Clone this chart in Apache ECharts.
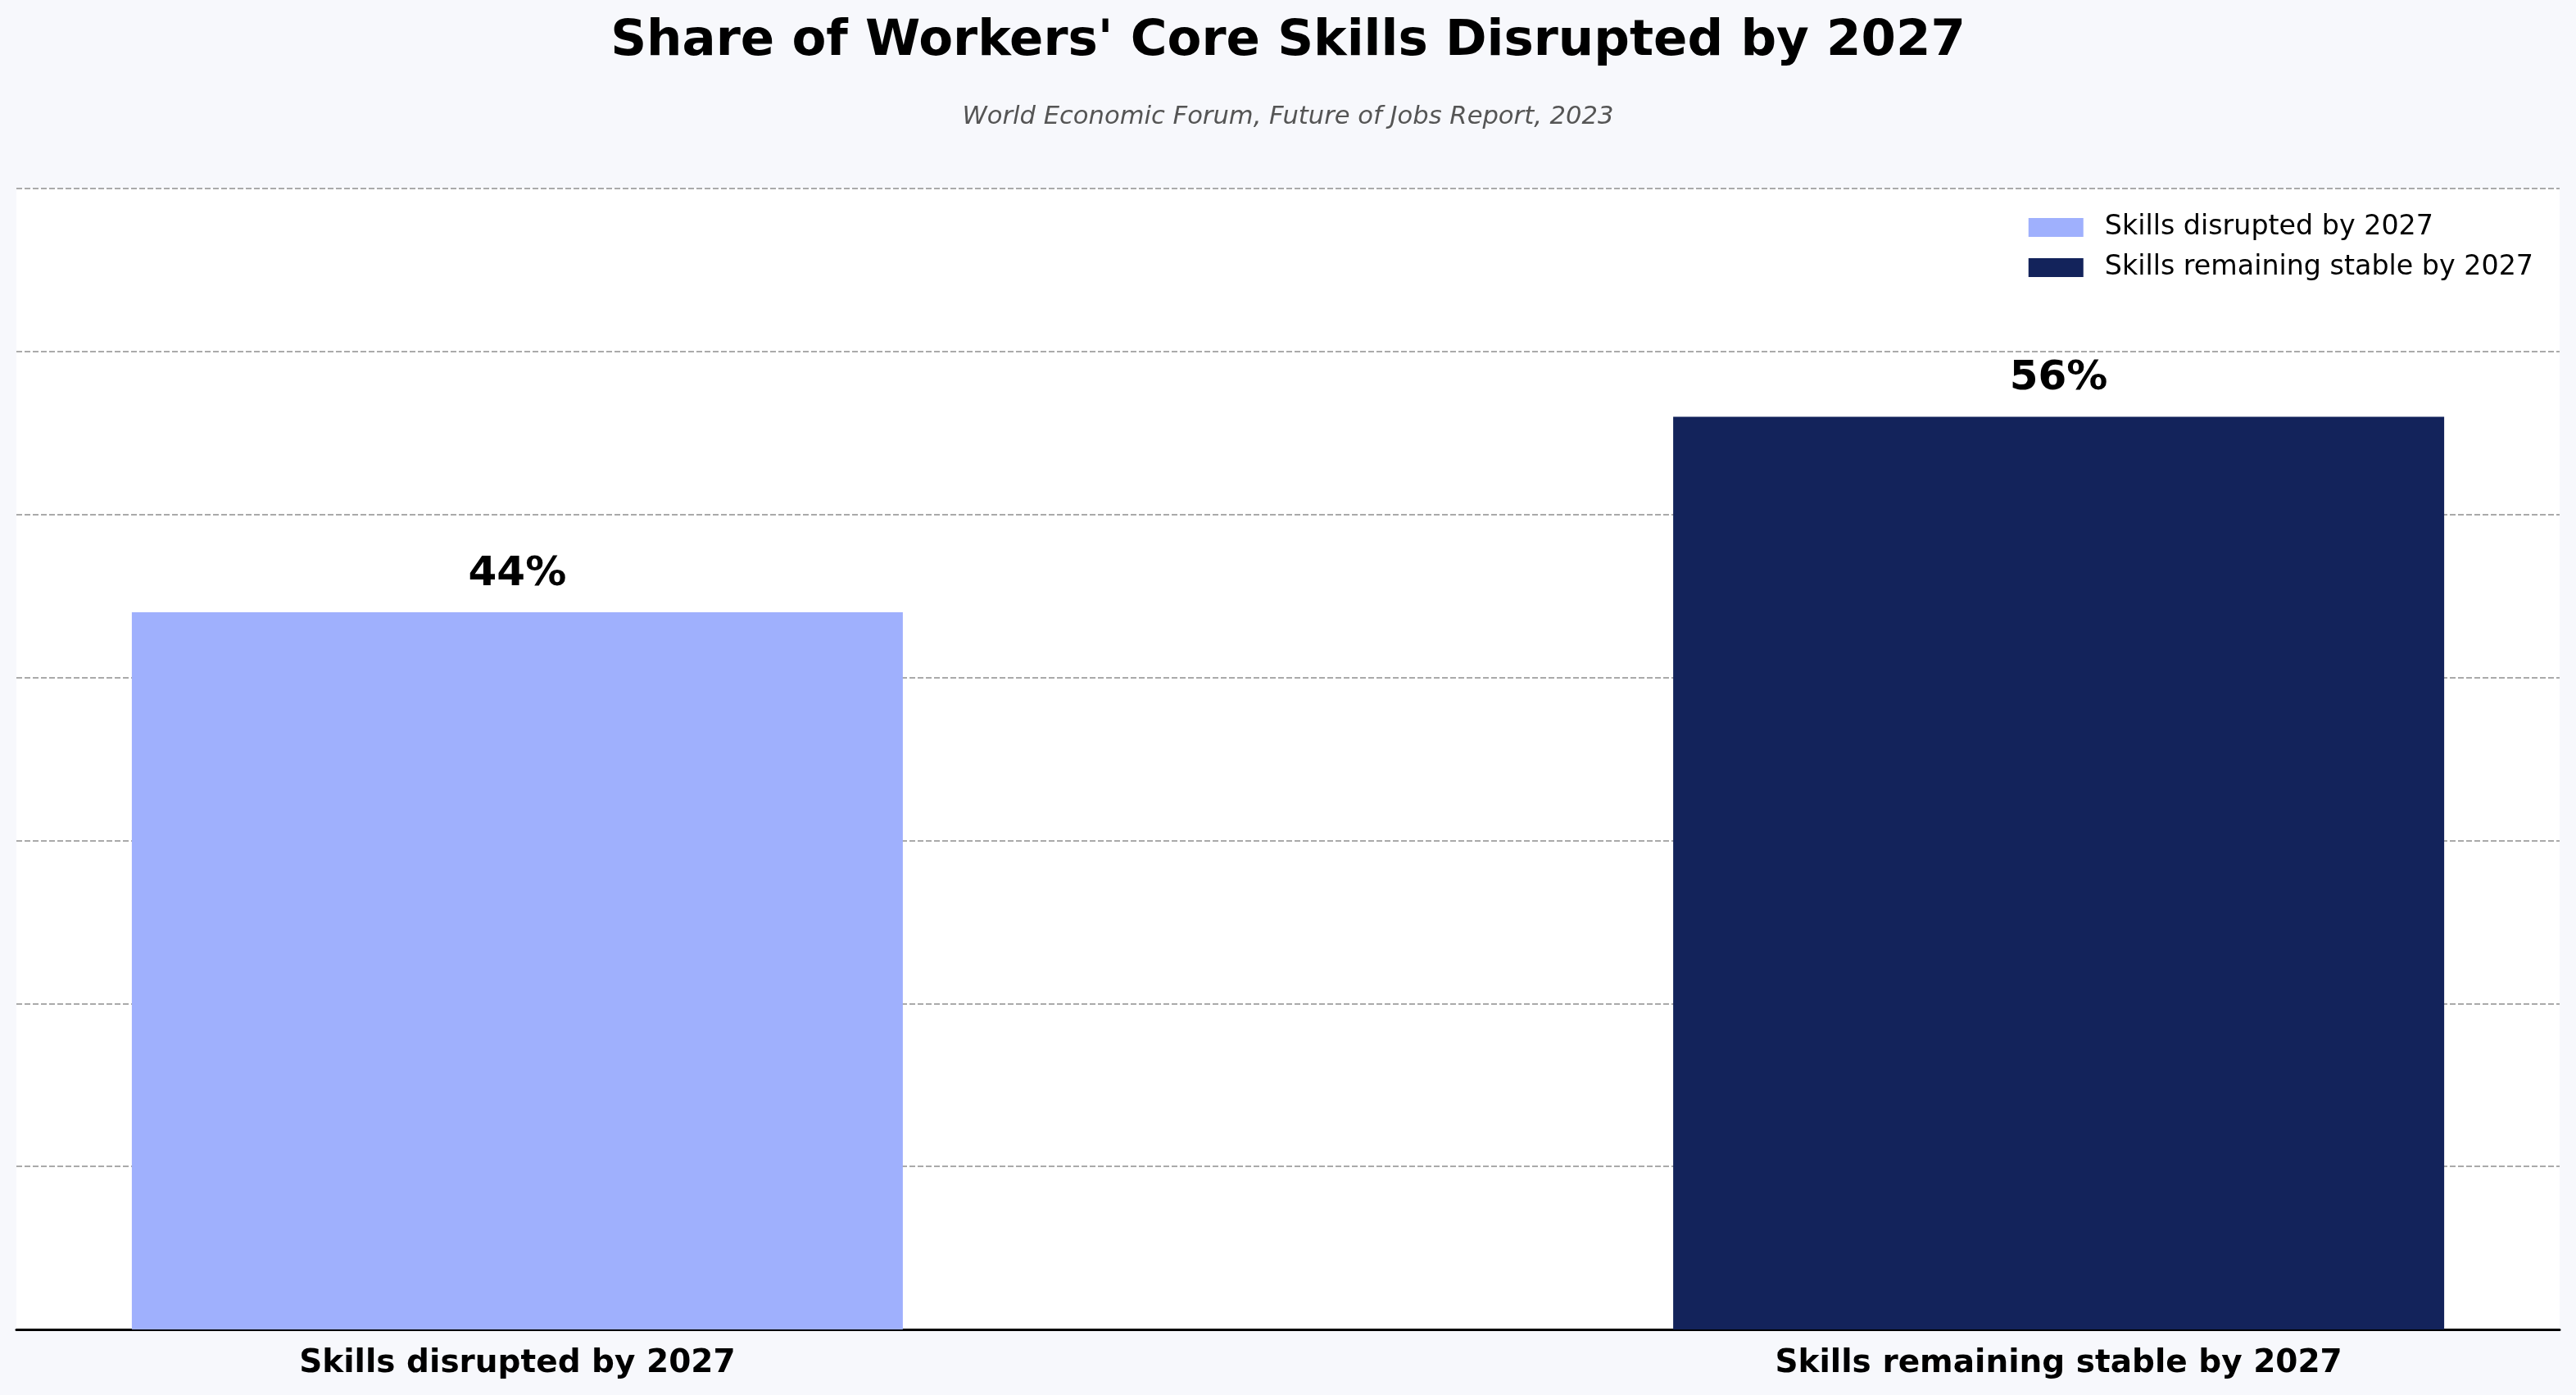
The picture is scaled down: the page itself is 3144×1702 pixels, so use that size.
<!DOCTYPE html>
<html>
<head>
<meta charset="utf-8">
<script src="https://cdn.jsdelivr.net/npm/echarts@6/dist/echarts.min.js"></script>
<style>
html,body{margin:0;padding:0;background:#f7f8fc;}
#chart{width:3144px;height:1702px;}
</style>
</head>
<body>
<div id="chart"></div>
<script>
const titleText = "Share of Workers' Core Skills Disrupted by 2027";
const subtitleText = "World Economic Forum, Future of Jobs Report, 2023";
const categories = ["Skills disrupted by 2027", "Skills remaining stable by 2027"];
const values = [44, 56];
const seriesColors = ["#9fb0fd", "#13235b"];
const yTicks = [0, 10, 20, 30, 40, 50, 60, 70];

const FONT = "DejaVu Sans";
const chart = echarts.init(document.getElementById('chart'), null, {renderer: 'canvas'});

const series = categories.map((name, i) => ({
  name: name,
  type: 'bar',
  data: [[i, values[i]]],
  barWidth: 941,
  barGap: '-100%',
  itemStyle: {color: seriesColors[i]},
  label: {
    show: true,
    position: 'top',
    distance: 21,
    formatter: p => p.value[1] + '%',
    fontFamily: FONT,
    fontWeight: 'bold',
    fontSize: 50,
    lineHeight: 50,
    color: '#000'
  }
}));

chart.setOption({
  backgroundColor: '#f7f8fc',
  animation: false,
  title: [
    {
      text: titleText,
      left: 'center',
      top: 16,
      textStyle: {fontFamily: FONT, fontWeight: 'bold', fontSize: 61, lineHeight: 61, color: '#000'}
    },
    {
      text: subtitleText,
      left: 'center',
      top: 123,
      textStyle: {fontFamily: FONT, fontStyle: 'italic', fontWeight: 'normal', fontSize: 30.6, lineHeight: 31, color: '#555'}
    }
  ],
  legend: {
    orient: 'vertical',
    right: 52,
    top: 261,
    padding: 0,
    itemWidth: 67,
    itemHeight: 23,
    itemGap: 16,
    icon: 'rect',
    data: categories,
    textStyle: {fontFamily: FONT, fontSize: 33.3, lineHeight: 33, color: '#000', padding: [0, 0, 0, 21]}
  },
  grid: {
    left: 20, right: 20, top: 230, bottom: 80,
    show: true, backgroundColor: '#ffffff', borderWidth: 0,
    containLabel: false
  },
  xAxis: {
    type: 'value',
    min: -0.325,
    max: 1.325,
    splitLine: {show: false},
    axisTick: {show: false},
    axisLine: {show: true, lineStyle: {color: '#000', width: 3}},
    axisLabel: {
      customValues: [0, 1],
      formatter: v => categories[Math.round(v)] || '',
      fontFamily: FONT,
      fontWeight: 'bold',
      fontSize: 39,
      lineHeight: 39,
      color: '#000',
      margin: 22
    }
  },
  yAxis: {
    type: 'value',
    min: yTicks[0],
    max: yTicks[yTicks.length - 1],
    interval: 10,
    axisLine: {show: false},
    axisTick: {show: false},
    axisLabel: {show: false},
    splitLine: {show: true, lineStyle: {color: '#aaaaaa', width: 2, type: [7, 3]}}
  },
  series: series
});
</script>
</body>
</html>
